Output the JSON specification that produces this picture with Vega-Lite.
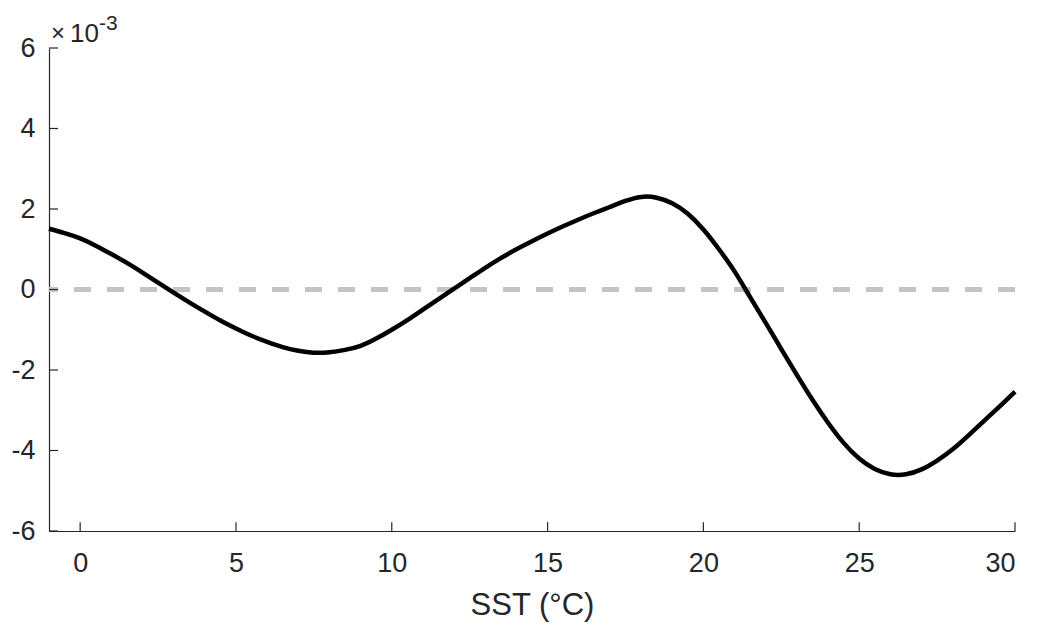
{
  "$schema": "https://vega.github.io/schema/vega-lite/v6.json",
  "width": 966,
  "height": 483,
  "autosize": "none",
  "padding": {"left": 49, "top": 48, "right": 24, "bottom": 101},
  "background": "white",
  "config": {
    "view": {"stroke": null},
    "font": "Liberation Sans",
    "axis": {
      "grid": false,
      "ticks": false,
      "domainColor": "#262626",
      "domainWidth": 1.2,
      "labelColor": "#262626",
      "labelFont": "Liberation Sans",
      "labelFontSize": 27,
      "titleFont": "Liberation Sans",
      "titleColor": "#262626",
      "titleFontWeight": "normal"
    }
  },
  "datasets": {
    "curve": [
      {"sst": -1, "value": 0.00151},
      {"sst": -0.5, "value": 0.00140},
      {"sst": 0, "value": 0.00127},
      {"sst": 0.5, "value": 0.00109},
      {"sst": 1, "value": 0.00088},
      {"sst": 1.5, "value": 0.00066},
      {"sst": 2, "value": 0.00042},
      {"sst": 2.5, "value": 0.00017},
      {"sst": 3, "value": -0.00008},
      {"sst": 3.5, "value": -0.00032},
      {"sst": 4, "value": -0.00055},
      {"sst": 4.5, "value": -0.00077},
      {"sst": 5, "value": -0.00097},
      {"sst": 5.5, "value": -0.00115},
      {"sst": 6, "value": -0.00130},
      {"sst": 6.5, "value": -0.00143},
      {"sst": 7, "value": -0.00152},
      {"sst": 7.5, "value": -0.00157},
      {"sst": 8, "value": -0.00156},
      {"sst": 8.5, "value": -0.00150},
      {"sst": 9, "value": -0.00140},
      {"sst": 9.5, "value": -0.00122},
      {"sst": 10, "value": -0.00100},
      {"sst": 10.5, "value": -0.00076},
      {"sst": 11, "value": -0.00050},
      {"sst": 11.5, "value": -0.00024},
      {"sst": 12, "value": 0.00002},
      {"sst": 12.5, "value": 0.00028},
      {"sst": 13, "value": 0.00054},
      {"sst": 13.5, "value": 0.00078},
      {"sst": 14, "value": 0.00100},
      {"sst": 14.5, "value": 0.00120},
      {"sst": 15, "value": 0.00139},
      {"sst": 15.5, "value": 0.00157},
      {"sst": 16, "value": 0.00174},
      {"sst": 16.5, "value": 0.00190},
      {"sst": 17, "value": 0.00205},
      {"sst": 17.5, "value": 0.00220},
      {"sst": 18, "value": 0.00230},
      {"sst": 18.5, "value": 0.00228},
      {"sst": 19, "value": 0.00214},
      {"sst": 19.5, "value": 0.00188},
      {"sst": 20, "value": 0.00149},
      {"sst": 20.5, "value": 0.00100},
      {"sst": 21, "value": 0.00045},
      {"sst": 21.5, "value": -0.00019},
      {"sst": 22, "value": -0.00083},
      {"sst": 22.5, "value": -0.00148},
      {"sst": 23, "value": -0.00212},
      {"sst": 23.5, "value": -0.00274},
      {"sst": 24, "value": -0.00331},
      {"sst": 24.5, "value": -0.00381},
      {"sst": 25, "value": -0.00420},
      {"sst": 25.5, "value": -0.00446},
      {"sst": 26, "value": -0.00459},
      {"sst": 26.5, "value": -0.00459},
      {"sst": 27, "value": -0.00447},
      {"sst": 27.5, "value": -0.00425},
      {"sst": 28, "value": -0.00397},
      {"sst": 28.5, "value": -0.00363},
      {"sst": 29, "value": -0.00327},
      {"sst": 29.5, "value": -0.00291},
      {"sst": 30, "value": -0.00254}
    ],
    "xticks": [
      {"tick": 0}, {"tick": 5}, {"tick": 10}, {"tick": 15}, {"tick": 20}, {"tick": 25}, {"tick": 30}
    ],
    "yticks": [
      {"tick": -0.006}, {"tick": -0.004}, {"tick": -0.002}, {"tick": 0}, {"tick": 0.002}, {"tick": 0.004}, {"tick": 0.006}
    ],
    "exponent": [{"sst": -1, "value": 0.006}]
  },
  "layer": [
    {
      "data": {"name": "curve"},
      "mark": {"type": "rule", "color": "#c4c4c4", "strokeWidth": 4.5, "strokeDash": [17, 16]},
      "encoding": {"y": {"datum": 0}}
    },
    {
      "data": {"name": "xticks"},
      "mark": {"type": "rule", "color": "#262626", "strokeWidth": 1.2},
      "encoding": {
        "x": {"field": "tick", "type": "quantitative"},
        "y": {"datum": -0.006},
        "y2": {"datum": -0.00578}
      }
    },
    {
      "data": {"name": "yticks"},
      "mark": {"type": "rule", "color": "#262626", "strokeWidth": 1.2},
      "encoding": {
        "y": {"field": "tick", "type": "quantitative"},
        "x": {"datum": -1},
        "x2": {"datum": -0.71}
      }
    },
    {
      "data": {"name": "curve"},
      "mark": {"type": "line", "color": "#000000", "strokeWidth": 4.5, "interpolate": "natural"},
      "encoding": {
        "x": {
          "field": "sst",
          "type": "quantitative",
          "scale": {"domain": [-1, 30], "nice": false, "zero": false},
          "axis": {
            "values": [0, 5, 10, 15, 20, 25, 30],
            "title": "SST (°C)",
            "titleFontSize": 31,
            "labelPadding": 19,
            "titlePadding": 14
          }
        },
        "y": {
          "field": "value",
          "type": "quantitative",
          "scale": {"domain": [-0.006, 0.006], "nice": false, "zero": false},
          "axis": {
            "values": [-0.006, -0.004, -0.002, 0, 0.002, 0.004, 0.006],
            "labelExpr": "'' + round(datum.value * 1000)",
            "title": null,
            "labelPadding": 14
          }
        }
      }
    },
    {
      "data": {"name": "exponent"},
      "mark": {"type": "text", "text": "×", "fontSize": 24, "color": "#262626", "align": "left", "baseline": "alphabetic", "dx": 2, "dy": -7},
      "encoding": {"x": {"field": "sst", "type": "quantitative"}, "y": {"field": "value", "type": "quantitative"}}
    },
    {
      "data": {"name": "exponent"},
      "mark": {"type": "text", "text": "10", "fontSize": 26, "color": "#262626", "align": "left", "baseline": "alphabetic", "dx": 21, "dy": -6},
      "encoding": {"x": {"field": "sst", "type": "quantitative"}, "y": {"field": "value", "type": "quantitative"}}
    },
    {
      "data": {"name": "exponent"},
      "mark": {"type": "text", "text": "-3", "fontSize": 21, "color": "#262626", "align": "left", "baseline": "alphabetic", "dx": 50, "dy": -18},
      "encoding": {"x": {"field": "sst", "type": "quantitative"}, "y": {"field": "value", "type": "quantitative"}}
    }
  ]
}
